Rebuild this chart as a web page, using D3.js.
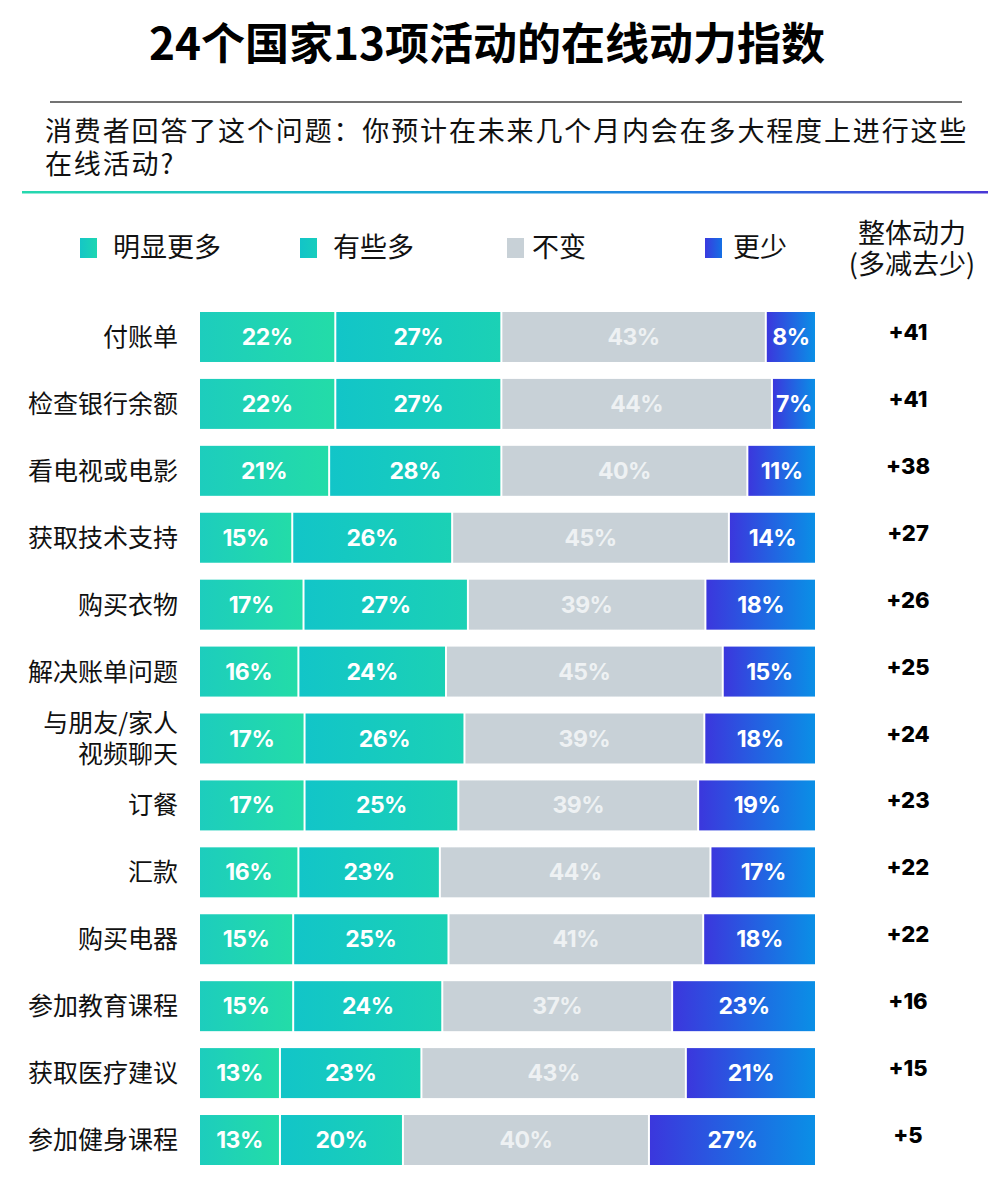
<!DOCTYPE html>
<html><head><meta charset="utf-8">
<script src="https://cdn.jsdelivr.net/npm/d3@7"></script>
<style>
html,body{margin:0;padding:0;background:#fff;}
svg{display:block;}
</style></head>
<body>
<svg id="chart" width="1000" height="1200"></svg>
<script>
const categories = ["付账单","检查银行余额","看电视或电影","获取技术支持","购买衣物","解决账单问题","与朋友/家人\n视频聊天","订餐","汇款","购买电器","参加教育课程","获取医疗建议","参加健身课程"];
const muchMore = [22,22,21,15,17,16,17,17,16,15,15,13,13];
const someMore = [27,27,28,26,27,24,26,25,23,25,24,23,20];
const same     = [43,44,40,45,39,45,39,39,44,41,37,43,40];
const less     = [8,7,11,14,18,15,18,19,17,18,23,21,27];
const netScore = ["+41","+41","+38","+27","+26","+25","+24","+23","+22","+22","+16","+15","+5"];
const seriesNames = ["明显更多","有些多","不变","更少"];

const svg = d3.select("#chart");
const defs = svg.append("defs");
function grad(id, stops){
  const g = defs.append("linearGradient").attr("id",id).attr("x1","0%").attr("x2","100%").attr("y1","0%").attr("y2","0%");
  stops.forEach((c,i)=>g.append("stop").attr("offset",(i/(stops.length-1)*100)+"%").attr("stop-color",c));
}
grad("g0",["#1dcdbd","#23dca8"]);
grad("g1",["#12c5c8","#1bd1b5"]);
grad("g2",["#c8d1d7","#c8d1d7"]);
grad("g3",["#3b37dd","#0a8fe6"]);
grad("gl0",["#15c6c6","#1dd6b2"]);
grad("gl1",["#12c4c8","#17cdbd"]);
grad("gl3",["#3a3adf","#1470e4"]);
grad("topline",["#26d8ae","#18b4cf","#1e7fe2","#4a38d6"]);

const cjk = "'Noto Sans CJK SC','Noto Sans',sans-serif";
const num = "Inter,'Noto Sans CJK SC',sans-serif";

// Title
svg.append("text").attr("x",487).attr("y",60).attr("text-anchor","middle")
  .style("font-family",cjk).style("font-weight",700).style("font-size","44px").attr("fill","#000")
  .text("24个国家13项活动的在线动力指数");
svg.append("line").attr("x1",50).attr("x2",962).attr("y1",102).attr("y2",102).attr("stroke","#444").attr("stroke-width",1.5);
const sub = svg.append("text").style("font-family",cjk).style("font-size","27px").style("letter-spacing","1.85px").attr("fill","#111");
sub.append("tspan").attr("x",45).attr("y",141).text("消费者回答了这个问题：你预计在未来几个月内会在多大程度上进行这些");
sub.append("tspan").attr("x",45).attr("y",174).text("在线活动?");
svg.append("rect").attr("x",22).attr("y",191).attr("width",966).attr("height",2.5).attr("fill","url(#topline)");

// Legend
const legendX = [80,300,507,705];
const legendTextX = [113,333,532,733];
const legendFill = ["url(#gl0)","url(#gl1)","#c8d1d7","url(#gl3)"];
const lg = svg.append("g");
seriesNames.forEach((n,i)=>{
  lg.append("rect").attr("x",legendX[i]).attr("y",238).attr("width",17).attr("height",20).attr("fill",legendFill[i]);
  lg.append("text").attr("x",legendTextX[i]).attr("y",257).style("font-family",cjk).style("font-size","27px").attr("fill","#111").text(n);
});
const head = svg.append("text").attr("text-anchor","middle").style("font-family",cjk).style("font-size","27px").attr("fill","#111");
head.append("tspan").attr("x",912).attr("y",243).text("整体动力");
head.append("tspan").attr("x",912).attr("y",274).text("(多减去少)");

// Scales
const y = d3.scaleBand().domain(categories).range([312,1165]).paddingInner(0.253).paddingOuter(0);
const x = d3.scaleLinear().domain([0,1]).range([200,815]);
const series = [muchMore, someMore, same, less];
const fills = ["url(#g0)","url(#g1)","url(#g2)","url(#g3)"];
const gap = 2;

categories.forEach((c,i)=>{
  const vals = series.map(s=>s[i]);
  const total = d3.sum(vals);
  let cum = 0;
  const top = y(c), bw = y.bandwidth(), cy = top + bw/2;
  vals.forEach((v,k)=>{
    const x0 = x(cum/total), x1 = x((cum+v)/total);
    cum += v;
    const xs = k===0 ? x0 : x0 + gap/2;
    const xe = k===vals.length-1 ? x1 : x1 - gap/2;
    svg.append("rect").attr("x",xs).attr("y",top).attr("width",xe-xs).attr("height",bw).attr("fill",fills[k]);
    svg.append("text").attr("x",(xs+xe)/2).attr("y",cy+8).attr("text-anchor","middle")
      .style("font-family",num).style("font-weight",700).style("font-size","23px").style("letter-spacing","-0.5px")
      .attr("fill", k===2 ? "#eef1f3" : "#fff").text(v+"%");
  });
  // category label
  const lines = c.split("\n");
  const t = svg.append("text").attr("text-anchor","end").style("font-family",cjk).style("font-size","25px").attr("fill","#111");
  lines.forEach((ln,j)=>{
    t.append("tspan").attr("x",178).attr("y", cy + 9 + (j - (lines.length-1)/2)*31).text(ln);
  });
  // net
  svg.append("text").attr("x",908).attr("y",cy+3).attr("text-anchor","middle")
    .style("font-family",num).style("font-weight",800).style("font-size","22px").attr("fill","#000").text(netScore[i]);
});
</script>
</body></html>
